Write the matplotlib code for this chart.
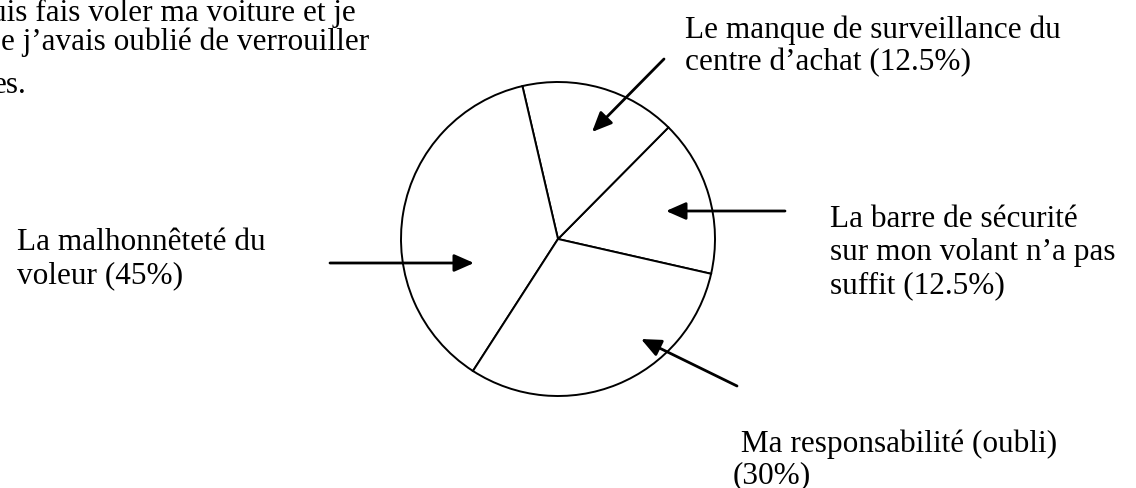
import matplotlib
matplotlib.use('Agg')
from matplotlib import pyplot as plt

# parts of the pie as drawn (degrees), in drawing order: right, top, left, bottom
parts = ['barre', 'surveillance', 'malhonnetete', 'responsabilite']
drawn_deg = [58.1, 57.8, 134.1, 110.0]

labels = {
    'surveillance': ['Le manque de surveillance du', 'centre d’achat (12.5%)'],
    'barre': ['La barre de sécurité', 'sur mon volant n’a pas', 'suffit (12.5%)'],
    'malhonnetete': ['La malhonnêteté du', 'voleur (45%)'],
    'responsabilite': [' Ma responsabilité (oubli)', '(30%)'],
}
top_lines = ['uis fais voler ma voiture et je', 'e j’avais oublié de verrouiller', 'es.']

plt.rcParams['font.family'] = ['Liberation Serif', 'DejaVu Serif']

W, H = 1136, 489
fig = plt.figure(figsize=(W / 100, H / 100), dpi=100)
ax = fig.add_axes([0, 0, 1, 1])

# y axis runs downward (pixel like), so angles are mirrored
ax.pie(drawn_deg, radius=157, center=(558, 240), startangle=12.8, counterclock=False,
       colors=['white'] * 4, frame=False,
       wedgeprops=dict(edgecolor='black', linewidth=1.4))
ax.set_xlim(0, W)
ax.set_ylim(H, 0)
ax.set_aspect('equal', adjustable='box')
ax.axis('off')

fs = 22.5

# cut off text at the top left
for (x, y), line in zip([(-9, 21), (1, 50), (-7, 93)], top_lines):
    ax.text(x, y, line, fontsize=fs, va='baseline', ha='left')

# label positions (left x, first baseline, line step) and arrows (tail -> head)
text_pos = {
    'surveillance': (685, 38, 32),
    'barre': (830, 227, 33),
    'malhonnetete': (17, 250, 33),
    'responsabilite': (733, 452, 31),
}
arrows = {
    'surveillance': ((664, 60), (592, 133)),
    'barre': ((785, 212), (666, 212)),
    'malhonnetete': ((330, 264), (474, 264)),
    'responsabilite': ((737, 387), (641, 340)),
}
for p in parts:
    x, y, step = text_pos[p]
    for i, line in enumerate(labels[p]):
        ax.text(x, y + i * step, line, fontsize=fs, va='baseline', ha='left')
    tail, head = arrows[p]
    ax.annotate('', xy=head, xytext=tail,
                arrowprops=dict(arrowstyle='-|>,head_length=0.5,head_width=0.22',
                                color='black', lw=2.0,
                                mutation_scale=24, shrinkA=0, shrinkB=0))

fig.savefig('out.png', dpi=100, facecolor='white')
